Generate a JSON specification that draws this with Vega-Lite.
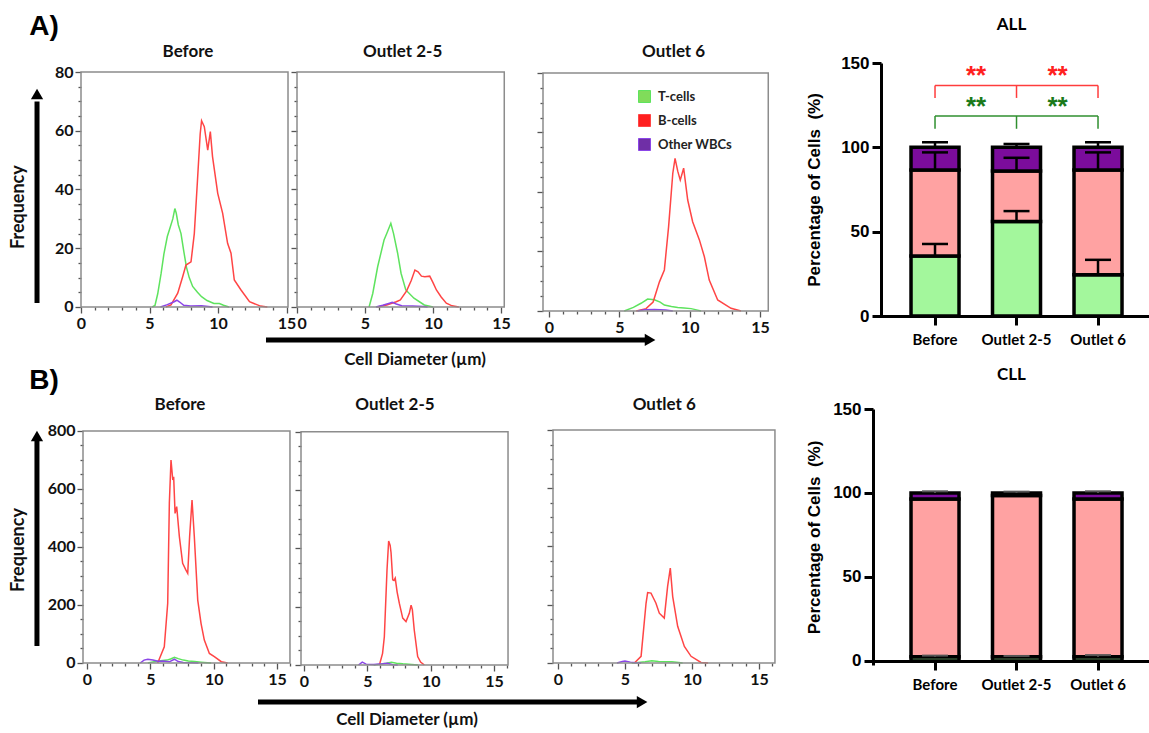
{
"$schema": "https://vega.github.io/schema/vega-lite/v6.json",
"background": "white",
"padding": {"left": 9, "top": 13, "right": 0, "bottom": 0},
"config": {"view": {"stroke": null}, "axis": {"grid": false, "labelOverlap": false, "labelFlush": false}},
"datasets": {
"one": [{"n": 1}],
"hist": [
{"p":"A1","c":"T-cells","d":5.2,"f":0},{"p":"A1","c":"T-cells","d":5.4,"f":0.5},{"p":"A1","c":"T-cells","d":5.6,"f":4.5},{"p":"A1","c":"T-cells","d":5.85,"f":11.5},{"p":"A1","c":"T-cells","d":6.05,"f":18},{"p":"A1","c":"T-cells","d":6.3,"f":24},{"p":"A1","c":"T-cells","d":6.5,"f":27},{"p":"A1","c":"T-cells","d":6.7,"f":30},{"p":"A1","c":"T-cells","d":6.85,"f":33.5},{"p":"A1","c":"T-cells","d":6.95,"f":32},{"p":"A1","c":"T-cells","d":7.1,"f":28},{"p":"A1","c":"T-cells","d":7.3,"f":25},{"p":"A1","c":"T-cells","d":7.5,"f":19},{"p":"A1","c":"T-cells","d":7.7,"f":13.5},{"p":"A1","c":"T-cells","d":7.9,"f":10},{"p":"A1","c":"T-cells","d":8.15,"f":7},{"p":"A1","c":"T-cells","d":8.5,"f":5},{"p":"A1","c":"T-cells","d":8.8,"f":3.5},{"p":"A1","c":"T-cells","d":9.2,"f":2.2},{"p":"A1","c":"T-cells","d":9.7,"f":1.2},{"p":"A1","c":"T-cells","d":10.1,"f":1.2},{"p":"A1","c":"T-cells","d":10.4,"f":0.6},{"p":"A1","c":"T-cells","d":10.8,"f":0},
{"p":"A1","c":"B-cells","d":6.2,"f":0},{"p":"A1","c":"B-cells","d":6.57,"f":0.7},{"p":"A1","c":"B-cells","d":7.06,"f":4.7},{"p":"A1","c":"B-cells","d":7.42,"f":10.3},{"p":"A1","c":"B-cells","d":7.66,"f":14.3},{"p":"A1","c":"B-cells","d":8.03,"f":15.4},{"p":"A1","c":"B-cells","d":8.27,"f":25},{"p":"A1","c":"B-cells","d":8.5,"f":43},{"p":"A1","c":"B-cells","d":8.7,"f":59},{"p":"A1","c":"B-cells","d":8.8,"f":63.4},{"p":"A1","c":"B-cells","d":9.0,"f":61.4},{"p":"A1","c":"B-cells","d":9.25,"f":53.4},{"p":"A1","c":"B-cells","d":9.44,"f":59.7},{"p":"A1","c":"B-cells","d":9.6,"f":51.2},{"p":"A1","c":"B-cells","d":9.98,"f":38.7},{"p":"A1","c":"B-cells","d":10.34,"f":31.9},{"p":"A1","c":"B-cells","d":10.7,"f":21.7},{"p":"A1","c":"B-cells","d":10.95,"f":18.3},{"p":"A1","c":"B-cells","d":11.19,"f":9.2},{"p":"A1","c":"B-cells","d":11.68,"f":5.8},{"p":"A1","c":"B-cells","d":12.3,"f":1.8},{"p":"A1","c":"B-cells","d":13.1,"f":0.3},{"p":"A1","c":"B-cells","d":13.6,"f":0},
{"p":"A1","c":"Other WBCs","d":5.8,"f":0},{"p":"A1","c":"Other WBCs","d":6.3,"f":0.8},{"p":"A1","c":"Other WBCs","d":6.8,"f":1.8},{"p":"A1","c":"Other WBCs","d":7.0,"f":2.3},{"p":"A1","c":"Other WBCs","d":7.2,"f":1.7},{"p":"A1","c":"Other WBCs","d":7.5,"f":0.6},{"p":"A1","c":"Other WBCs","d":8.0,"f":0.3},{"p":"A1","c":"Other WBCs","d":8.8,"f":0.4},{"p":"A1","c":"Other WBCs","d":9.3,"f":0.2},{"p":"A1","c":"Other WBCs","d":9.6,"f":0},
{"p":"A2","c":"T-cells","d":5.3,"f":0},{"p":"A2","c":"T-cells","d":5.57,"f":4.6},{"p":"A2","c":"T-cells","d":5.93,"f":13.7},{"p":"A2","c":"T-cells","d":6.4,"f":22.8},{"p":"A2","c":"T-cells","d":6.6,"f":25},{"p":"A2","c":"T-cells","d":6.9,"f":28.5},{"p":"A2","c":"T-cells","d":7.1,"f":25},{"p":"A2","c":"T-cells","d":7.4,"f":18.3},{"p":"A2","c":"T-cells","d":7.65,"f":11.5},{"p":"A2","c":"T-cells","d":8.0,"f":5.8},{"p":"A2","c":"T-cells","d":8.6,"f":3},{"p":"A2","c":"T-cells","d":9.36,"f":0.7},{"p":"A2","c":"T-cells","d":10.0,"f":0},
{"p":"A2","c":"B-cells","d":5.9,"f":0},{"p":"A2","c":"B-cells","d":6.6,"f":0.7},{"p":"A2","c":"B-cells","d":7.3,"f":1.8},{"p":"A2","c":"B-cells","d":7.6,"f":2.4},{"p":"A2","c":"B-cells","d":8.06,"f":5.5},{"p":"A2","c":"B-cells","d":8.4,"f":9},{"p":"A2","c":"B-cells","d":8.67,"f":12.6},{"p":"A2","c":"B-cells","d":8.9,"f":12},{"p":"A2","c":"B-cells","d":9.15,"f":10.5},{"p":"A2","c":"B-cells","d":9.4,"f":10.3},{"p":"A2","c":"B-cells","d":9.76,"f":10.5},{"p":"A2","c":"B-cells","d":10.0,"f":8.3},{"p":"A2","c":"B-cells","d":10.25,"f":5.8},{"p":"A2","c":"B-cells","d":10.6,"f":3.4},{"p":"A2","c":"B-cells","d":10.98,"f":1.3},{"p":"A2","c":"B-cells","d":11.4,"f":0.4},{"p":"A2","c":"B-cells","d":11.9,"f":0},
{"p":"A2","c":"Other WBCs","d":5.8,"f":0},{"p":"A2","c":"Other WBCs","d":6.3,"f":0.6},{"p":"A2","c":"Other WBCs","d":6.8,"f":1.3},{"p":"A2","c":"Other WBCs","d":7.0,"f":1.6},{"p":"A2","c":"Other WBCs","d":7.3,"f":1.0},{"p":"A2","c":"Other WBCs","d":7.7,"f":0.4},{"p":"A2","c":"Other WBCs","d":8.5,"f":0.3},{"p":"A2","c":"Other WBCs","d":9.3,"f":0.2},{"p":"A2","c":"Other WBCs","d":9.6,"f":0},
{"p":"A3","c":"T-cells","d":5.35,"f":0},{"p":"A3","c":"T-cells","d":6.0,"f":1.2},{"p":"A3","c":"T-cells","d":6.54,"f":2.6},{"p":"A3","c":"T-cells","d":7.01,"f":4},{"p":"A3","c":"T-cells","d":7.49,"f":3.8},{"p":"A3","c":"T-cells","d":7.9,"f":3},{"p":"A3","c":"T-cells","d":8.2,"f":2},{"p":"A3","c":"T-cells","d":8.7,"f":1.5},{"p":"A3","c":"T-cells","d":9.15,"f":1.2},{"p":"A3","c":"T-cells","d":9.6,"f":1},{"p":"A3","c":"T-cells","d":10.1,"f":0.8},{"p":"A3","c":"T-cells","d":10.57,"f":0.3},{"p":"A3","c":"T-cells","d":10.8,"f":0},
{"p":"A3","c":"B-cells","d":6.2,"f":0},{"p":"A3","c":"B-cells","d":6.9,"f":0.8},{"p":"A3","c":"B-cells","d":7.4,"f":3},{"p":"A3","c":"B-cells","d":7.85,"f":9.8},{"p":"A3","c":"B-cells","d":8.2,"f":13.8},{"p":"A3","c":"B-cells","d":8.5,"f":28.3},{"p":"A3","c":"B-cells","d":8.8,"f":46.3},{"p":"A3","c":"B-cells","d":8.96,"f":51.3},{"p":"A3","c":"B-cells","d":9.15,"f":47},{"p":"A3","c":"B-cells","d":9.33,"f":44},{"p":"A3","c":"B-cells","d":9.57,"f":48},{"p":"A3","c":"B-cells","d":9.86,"f":37.3},{"p":"A3","c":"B-cells","d":10.21,"f":30},{"p":"A3","c":"B-cells","d":10.69,"f":23.9},{"p":"A3","c":"B-cells","d":11.04,"f":18.3},{"p":"A3","c":"B-cells","d":11.39,"f":10.4},{"p":"A3","c":"B-cells","d":11.99,"f":3.7},{"p":"A3","c":"B-cells","d":12.94,"f":0.9},{"p":"A3","c":"B-cells","d":13.65,"f":0},
{"p":"A3","c":"Other WBCs","d":6.3,"f":0},{"p":"A3","c":"Other WBCs","d":6.8,"f":0.4},{"p":"A3","c":"Other WBCs","d":7.5,"f":0.5},{"p":"A3","c":"Other WBCs","d":8.3,"f":0.3},{"p":"A3","c":"Other WBCs","d":8.8,"f":0},
{"p":"B1","c":"T-cells","d":4.8,"f":0},{"p":"B1","c":"T-cells","d":5.3,"f":4},{"p":"B1","c":"T-cells","d":5.8,"f":8},{"p":"B1","c":"T-cells","d":6.3,"f":10},{"p":"B1","c":"T-cells","d":6.6,"f":14},{"p":"B1","c":"T-cells","d":6.9,"f":20},{"p":"B1","c":"T-cells","d":7.2,"f":15},{"p":"B1","c":"T-cells","d":7.6,"f":10},{"p":"B1","c":"T-cells","d":8.0,"f":7},{"p":"B1","c":"T-cells","d":8.5,"f":5},{"p":"B1","c":"T-cells","d":9.0,"f":3},{"p":"B1","c":"T-cells","d":9.5,"f":1},{"p":"B1","c":"T-cells","d":9.8,"f":0},
{"p":"B1","c":"B-cells","d":5.58,"f":0},{"p":"B1","c":"B-cells","d":6.1,"f":56},{"p":"B1","c":"B-cells","d":6.37,"f":206},{"p":"B1","c":"B-cells","d":6.5,"f":552},{"p":"B1","c":"B-cells","d":6.63,"f":700},{"p":"B1","c":"B-cells","d":6.77,"f":631},{"p":"B1","c":"B-cells","d":6.84,"f":642},{"p":"B1","c":"B-cells","d":6.95,"f":516},{"p":"B1","c":"B-cells","d":7.08,"f":539},{"p":"B1","c":"B-cells","d":7.29,"f":436},{"p":"B1","c":"B-cells","d":7.55,"f":344},{"p":"B1","c":"B-cells","d":7.8,"f":321},{"p":"B1","c":"B-cells","d":7.95,"f":309},{"p":"B1","c":"B-cells","d":8.1,"f":436},{"p":"B1","c":"B-cells","d":8.29,"f":562},{"p":"B1","c":"B-cells","d":8.47,"f":436},{"p":"B1","c":"B-cells","d":8.74,"f":217},{"p":"B1","c":"B-cells","d":9.0,"f":137},{"p":"B1","c":"B-cells","d":9.26,"f":79},{"p":"B1","c":"B-cells","d":9.66,"f":33},{"p":"B1","c":"B-cells","d":10.05,"f":22},{"p":"B1","c":"B-cells","d":10.6,"f":4.5},{"p":"B1","c":"B-cells","d":11.1,"f":0},
{"p":"B1","c":"Other WBCs","d":4.2,"f":0},{"p":"B1","c":"Other WBCs","d":4.5,"f":10},{"p":"B1","c":"Other WBCs","d":4.8,"f":13},{"p":"B1","c":"Other WBCs","d":5.2,"f":10},{"p":"B1","c":"Other WBCs","d":5.6,"f":6},{"p":"B1","c":"Other WBCs","d":6.0,"f":7},{"p":"B1","c":"Other WBCs","d":6.5,"f":4},{"p":"B1","c":"Other WBCs","d":6.9,"f":13},{"p":"B1","c":"Other WBCs","d":7.2,"f":5},{"p":"B1","c":"Other WBCs","d":7.6,"f":2},{"p":"B1","c":"Other WBCs","d":8.3,"f":1},{"p":"B1","c":"Other WBCs","d":8.8,"f":0},
{"p":"B2","c":"T-cells","d":5.5,"f":0},{"p":"B2","c":"T-cells","d":6.0,"f":3},{"p":"B2","c":"T-cells","d":6.5,"f":6},{"p":"B2","c":"T-cells","d":6.9,"f":9},{"p":"B2","c":"T-cells","d":7.3,"f":6},{"p":"B2","c":"T-cells","d":7.8,"f":4},{"p":"B2","c":"T-cells","d":8.5,"f":2},{"p":"B2","c":"T-cells","d":9.0,"f":0},
{"p":"B2","c":"B-cells","d":5.95,"f":0},{"p":"B2","c":"B-cells","d":6.2,"f":40},{"p":"B2","c":"B-cells","d":6.34,"f":97},{"p":"B2","c":"B-cells","d":6.55,"f":326},{"p":"B2","c":"B-cells","d":6.68,"f":425},{"p":"B2","c":"B-cells","d":6.8,"f":410},{"p":"B2","c":"B-cells","d":6.87,"f":385},{"p":"B2","c":"B-cells","d":7.0,"f":292},{"p":"B2","c":"B-cells","d":7.1,"f":290},{"p":"B2","c":"B-cells","d":7.2,"f":298},{"p":"B2","c":"B-cells","d":7.35,"f":250},{"p":"B2","c":"B-cells","d":7.52,"f":212},{"p":"B2","c":"B-cells","d":7.79,"f":161},{"p":"B2","c":"B-cells","d":8.05,"f":149},{"p":"B2","c":"B-cells","d":8.31,"f":177},{"p":"B2","c":"B-cells","d":8.45,"f":205},{"p":"B2","c":"B-cells","d":8.55,"f":190},{"p":"B2","c":"B-cells","d":8.7,"f":120},{"p":"B2","c":"B-cells","d":8.97,"f":29},{"p":"B2","c":"B-cells","d":9.2,"f":10},{"p":"B2","c":"B-cells","d":9.5,"f":0},
{"p":"B2","c":"Other WBCs","d":4.3,"f":0},{"p":"B2","c":"Other WBCs","d":4.6,"f":10},{"p":"B2","c":"Other WBCs","d":4.9,"f":3},{"p":"B2","c":"Other WBCs","d":5.5,"f":2},{"p":"B2","c":"Other WBCs","d":6.2,"f":4},{"p":"B2","c":"Other WBCs","d":6.6,"f":6},{"p":"B2","c":"Other WBCs","d":7.0,"f":1},{"p":"B2","c":"Other WBCs","d":7.4,"f":0},
{"p":"B3","c":"T-cells","d":5.5,"f":0},{"p":"B3","c":"T-cells","d":6.0,"f":2},{"p":"B3","c":"T-cells","d":6.5,"f":4},{"p":"B3","c":"T-cells","d":7.0,"f":8},{"p":"B3","c":"T-cells","d":7.5,"f":5},{"p":"B3","c":"T-cells","d":8.0,"f":4},{"p":"B3","c":"T-cells","d":8.5,"f":4},{"p":"B3","c":"T-cells","d":9.0,"f":2},{"p":"B3","c":"T-cells","d":9.3,"f":0},
{"p":"B3","c":"B-cells","d":5.7,"f":0},{"p":"B3","c":"B-cells","d":6.2,"f":23},{"p":"B3","c":"B-cells","d":6.57,"f":205},{"p":"B3","c":"B-cells","d":6.69,"f":242},{"p":"B3","c":"B-cells","d":6.94,"f":240},{"p":"B3","c":"B-cells","d":7.1,"f":225},{"p":"B3","c":"B-cells","d":7.31,"f":205},{"p":"B3","c":"B-cells","d":7.56,"f":171},{"p":"B3","c":"B-cells","d":7.93,"f":154},{"p":"B3","c":"B-cells","d":8.18,"f":263},{"p":"B3","c":"B-cells","d":8.38,"f":326},{"p":"B3","c":"B-cells","d":8.56,"f":228},{"p":"B3","c":"B-cells","d":8.93,"f":126},{"p":"B3","c":"B-cells","d":9.43,"f":57},{"p":"B3","c":"B-cells","d":9.93,"f":23},{"p":"B3","c":"B-cells","d":10.67,"f":2},{"p":"B3","c":"B-cells","d":11.2,"f":0},
{"p":"B3","c":"Other WBCs","d":4.4,"f":0},{"p":"B3","c":"Other WBCs","d":4.8,"f":5},{"p":"B3","c":"Other WBCs","d":5.0,"f":7},{"p":"B3","c":"Other WBCs","d":5.4,"f":3},{"p":"B3","c":"Other WBCs","d":5.8,"f":1},{"p":"B3","c":"Other WBCs","d":6.2,"f":0}
],
"bars": [
{"g":"ALL","cat":"Before","cell":"T-cells","lo":0,"hi":35.5},
{"g":"ALL","cat":"Before","cell":"B-cells","lo":35.5,"hi":86.5},
{"g":"ALL","cat":"Before","cell":"Other WBCs","lo":86.5,"hi":100},
{"g":"ALL","cat":"Outlet 2-5","cell":"T-cells","lo":0,"hi":56},
{"g":"ALL","cat":"Outlet 2-5","cell":"B-cells","lo":56,"hi":86},
{"g":"ALL","cat":"Outlet 2-5","cell":"Other WBCs","lo":86,"hi":100},
{"g":"ALL","cat":"Outlet 6","cell":"T-cells","lo":0,"hi":24.5},
{"g":"ALL","cat":"Outlet 6","cell":"B-cells","lo":24.5,"hi":86.5},
{"g":"ALL","cat":"Outlet 6","cell":"Other WBCs","lo":86.5,"hi":100},
{"g":"CLL","cat":"Before","cell":"T-cells","lo":0,"hi":2.5},
{"g":"CLL","cat":"Before","cell":"B-cells","lo":2.5,"hi":96.5},
{"g":"CLL","cat":"Before","cell":"Other WBCs","lo":96.5,"hi":100},
{"g":"CLL","cat":"Outlet 2-5","cell":"T-cells","lo":0,"hi":2.5},
{"g":"CLL","cat":"Outlet 2-5","cell":"B-cells","lo":2.5,"hi":98.5},
{"g":"CLL","cat":"Outlet 2-5","cell":"Other WBCs","lo":98.5,"hi":100},
{"g":"CLL","cat":"Outlet 6","cell":"T-cells","lo":0,"hi":2.5},
{"g":"CLL","cat":"Outlet 6","cell":"B-cells","lo":2.5,"hi":96.5},
{"g":"CLL","cat":"Outlet 6","cell":"Other WBCs","lo":96.5,"hi":100}
],
"errs": [
{"g":"ALL","cat":"Before","cell":"T-cells","mean":35.5,"upper":42.7},
{"g":"ALL","cat":"Before","cell":"B-cells","mean":86.5,"upper":97},
{"g":"ALL","cat":"Before","cell":"Other WBCs","mean":100,"upper":103},
{"g":"ALL","cat":"Outlet 2-5","cell":"T-cells","mean":56,"upper":62.2},
{"g":"ALL","cat":"Outlet 2-5","cell":"B-cells","mean":86,"upper":93.8},
{"g":"ALL","cat":"Outlet 2-5","cell":"Other WBCs","mean":100,"upper":102},
{"g":"ALL","cat":"Outlet 6","cell":"T-cells","mean":24.5,"upper":33.3},
{"g":"ALL","cat":"Outlet 6","cell":"B-cells","mean":86.5,"upper":97},
{"g":"ALL","cat":"Outlet 6","cell":"Other WBCs","mean":100,"upper":103},
{"g":"CLL","cat":"Before","cell":"T-cells","mean":2.5,"upper":3.2},
{"g":"CLL","cat":"Before","cell":"Other WBCs","mean":100,"upper":101},
{"g":"CLL","cat":"Outlet 2-5","cell":"T-cells","mean":2.5,"upper":3},
{"g":"CLL","cat":"Outlet 2-5","cell":"Other WBCs","mean":100,"upper":100.8},
{"g":"CLL","cat":"Outlet 6","cell":"T-cells","mean":2.5,"upper":3.5},
{"g":"CLL","cat":"Outlet 6","cell":"Other WBCs","mean":100,"upper":101}
]
},
"columns": 4,
"spacing": {"row": 93, "column": 0},
"bounds": "flush",
"resolve": {"scale": {"color": "independent", "fill": "independent"}, "legend": {"color": "independent", "fill": "independent"}},
"concat": [
{
 "width": 216, "height": 253,
 "layer": [
  {"data": {"name": "hist"}, "transform": [{"filter": "datum.p === 'A1'"}],
   "mark": {"type": "line", "strokeWidth": 1.5},
   "encoding": {
    "x": {"field": "d", "type": "quantitative", "scale": {"domain": [0, 15.766], "nice": false, "zero": false},
     "axis": {"title": null, "domain": false, "format": "d", "tickCount": 100, "values": [0,1,2,3,4,5,6,7,8,9,10,11,12,13,14,15], "labelExpr": "datum.value % 5 === 0 ? datum.label : ''", "tickSize": {"condition": {"test": "datum.value % 5 === 0", "value": 6}, "value": 3}, "tickColor": "#555", "tickWidth": 1.3, "labelFont": "Lato", "labelFontSize": 16, "labelFontWeight": "bold", "labelColor": "#111", "labelPadding": 2, "offset": -9}},
    "y": {"field": "f", "type": "quantitative", "scale": {"domain": [-3.064, 83.064], "nice": false, "zero": false},
     "axis": {"title": null, "domain": false, "format": "d", "tickCount": 100, "values": [0,5,10,15,20,25,30,35,40,45,50,55,60,65,70,75,80], "labelExpr": "datum.value % 20 === 0 ? datum.label : ''", "tickSize": {"condition": {"test": "datum.value % 20 === 0", "value": 6}, "value": 3}, "tickColor": "#555", "tickWidth": 1.3, "labelFont": "Lato", "labelFontSize": 16, "labelFontWeight": "bold", "labelColor": "#111", "labelPadding": 2}},
    "color": {"field": "c", "type": "nominal", "scale": {"domain": ["T-cells", "B-cells", "Other WBCs"], "range": ["#5ee35e", "#ff4545", "#8b45e8"]}, "legend": null}}},
  {"data": {"name": "one"}, "mark": {"type": "rect", "filled": false, "stroke": "#8c8c8c", "strokeWidth": 1.5},
   "encoding": {"x": {"datum": 0}, "x2": {"datum": 15.11}, "y": {"datum": 0}, "y2": {"datum": 80}}},
  {"data": {"name": "one"}, "mark": {"type": "text", "text": "Before", "font": "Lato", "fontSize": 17, "fontWeight": "bold", "align": "center", "baseline": "middle", "color": "#111"},
   "encoding": {"x": {"datum": 7.81}, "y": {"datum": 86.8}}},
  {"data": {"name": "one"}, "mark": {"type": "text", "text": "A)", "font": "Liberation Sans", "fontSize": 28, "fontWeight": "bold", "align": "center", "baseline": "middle", "color": "#000"},
   "encoding": {"x": {"datum": -2.7}, "y": {"datum": 95.3}}},
  {"data": {"name": "one"}, "mark": {"type": "text", "text": "Frequency", "font": "Lato", "fontSize": 18, "fontWeight": "bold", "align": "center", "baseline": "middle", "angle": 270, "color": "#111"},
   "encoding": {"x": {"datum": -4.53}, "y": {"datum": 34.0}}},
  {"data": {"name": "one"}, "mark": {"type": "rule", "strokeWidth": 5, "color": "#000"},
   "encoding": {"x": {"datum": -3.21}, "y": {"datum": 1.36}, "y2": {"datum": 70}}},
  {"data": {"name": "one"}, "mark": {"type": "point", "shape": "triangle-up", "filled": true, "color": "#000", "size": 150, "opacity": 1},
   "encoding": {"x": {"datum": -3.21}, "y": {"datum": 72.5}}}
 ]
},
{
 "width": 246, "height": 253,
 "layer": [
  {"data": {"name": "hist"}, "transform": [{"filter": "datum.p === 'A2'"}],
   "mark": {"type": "line", "strokeWidth": 1.5},
   "encoding": {
    "x": {"field": "d", "type": "quantitative", "scale": {"domain": [0, 18.088], "nice": false, "zero": false},
     "axis": {"title": null, "domain": false, "format": "d", "tickCount": 100, "values": [0,1,2,3,4,5,6,7,8,9,10,11,12,13,14,15], "labelExpr": "datum.value % 5 === 0 ? datum.label : ''", "labelAlign": {"condition": {"test": "datum.value === 0", "value": "left"}, "value": "center"}, "tickSize": {"condition": {"test": "datum.value % 5 === 0", "value": 6}, "value": 3}, "tickColor": "#555", "tickWidth": 1.3, "labelFont": "Lato", "labelFontSize": 16, "labelFontWeight": "bold", "labelColor": "#111", "labelPadding": 2, "offset": -9}},
    "y": {"field": "f", "type": "quantitative", "scale": {"domain": [-3.064, 83.064], "nice": false, "zero": false},
     "axis": {"title": null, "domain": false, "labels": false, "tickCount": 100, "values": [0,5,10,15,20,25,30,35,40,45,50,55,60,65,70,75,80], "tickSize": {"condition": {"test": "datum.value % 20 === 0", "value": 6}, "value": 3}, "tickColor": "#555", "tickWidth": 1.3}},
    "color": {"field": "c", "type": "nominal", "scale": {"domain": ["T-cells", "B-cells", "Other WBCs"], "range": ["#5ee35e", "#ff4545", "#8b45e8"]}, "legend": null}}},
  {"data": {"name": "one"}, "mark": {"type": "rect", "filled": false, "stroke": "#8c8c8c", "strokeWidth": 1.5},
   "encoding": {"x": {"datum": 0}, "x2": {"datum": 15.24}, "y": {"datum": 0}, "y2": {"datum": 80}}},
  {"data": {"name": "one"}, "mark": {"type": "text", "text": "Outlet 2-5", "font": "Lato", "fontSize": 17, "fontWeight": "bold", "align": "center", "baseline": "middle", "color": "#111"},
   "encoding": {"x": {"datum": 7.77}, "y": {"datum": 86.8}}},
  {"data": {"name": "one"}, "mark": {"type": "rule", "strokeWidth": 5, "color": "#000"},
   "encoding": {"x": {"datum": -2.28}, "x2": {"datum": 25.6}, "y": {"datum": -11.23}}},
  {"data": {"name": "one"}, "mark": {"type": "point", "shape": "triangle-right", "filled": true, "color": "#000", "size": 150, "opacity": 1},
   "encoding": {"x": {"datum": 25.96}, "y": {"datum": -11.23}}},
  {"data": {"name": "one"}, "mark": {"type": "text", "text": "Cell Diameter (µm)", "font": "Lato", "fontSize": 17, "fontWeight": "bold", "align": "center", "baseline": "middle", "color": "#111"},
   "encoding": {"x": {"datum": 8.68}, "y": {"datum": -18.0}}}
 ]
},
{
 "width": 330, "height": 253,
 "layer": [
  {"data": {"name": "hist"}, "transform": [{"filter": "datum.p === 'A3'"}],
   "mark": {"type": "line", "strokeWidth": 1.5},
   "encoding": {
    "x": {"field": "d", "type": "quantitative", "scale": {"domain": [-0.4264, 23.03], "nice": false, "zero": false},
     "axis": {"title": null, "domain": false, "format": "d", "tickCount": 100, "values": [0,1,2,3,4,5,6,7,8,9,10,11,12,13,14,15], "labelExpr": "datum.value % 5 === 0 ? datum.label : ''", "tickSize": {"condition": {"test": "datum.value % 5 === 0", "value": 6}, "value": 3}, "tickColor": "#555", "tickWidth": 1.3, "labelFont": "Lato", "labelFontSize": 16, "labelFontWeight": "bold", "labelColor": "#111", "labelPadding": 2, "offset": -5}},
    "y": {"field": "f", "type": "quantitative", "scale": {"domain": [-1.681, 83.36], "nice": false, "zero": false},
     "axis": {"title": null, "domain": false, "labels": false, "tickCount": 100, "values": [0,5,10,15,20,25,30,35,40,45,50,55,60,65,70,75,80], "tickSize": {"condition": {"test": "datum.value % 20 === 0", "value": 6}, "value": 3}, "tickColor": "#555", "tickWidth": 1.3}},
    "color": {"field": "c", "type": "nominal", "scale": {"domain": ["T-cells", "B-cells", "Other WBCs"], "range": ["#5ee35e", "#ff4545", "#8b45e8"]},
     "legend": {"orient": "none", "legendX": 95, "legendY": 27, "title": null, "symbolType": "square", "symbolSize": 144, "labelFont": "Lato", "labelFontSize": 13, "labelFontWeight": "bold", "labelColor": "#222", "rowPadding": 7, "padding": 0, "labelOffset": 7,
      "encode": {"symbols": {"update": {"fill": {"signal": "datum.value === 'T-cells' ? '#80dc5a' : datum.value === 'B-cells' ? '#ff1f1f' : '#6f2fa6'"}, "stroke": {"signal": "datum.value === 'T-cells' ? '#80dc5a' : '#ff2a2a'"}, "strokeWidth": {"value": 1}, "opacity": {"value": 1}}}}}}}},
  {"data": {"name": "one"}, "mark": {"type": "rect", "filled": false, "stroke": "#8c8c8c", "strokeWidth": 1.5},
   "encoding": {"x": {"datum": -0.4264}, "x2": {"datum": 15.586}, "y": {"datum": 0}, "y2": {"datum": 80}}},
  {"data": {"name": "one"}, "mark": {"type": "text", "text": "Outlet 6", "font": "Lato", "fontSize": 17, "fontWeight": "bold", "align": "center", "baseline": "middle", "color": "#111"},
   "encoding": {"x": {"datum": 8.86}, "y": {"datum": 87.06}}}
 ]
},
{
 "width": 277, "height": 253,
 "title": {"text": "ALL", "font": "Lato", "fontSize": 17, "fontWeight": "bold", "offset": 20, "anchor": "middle", "color": "#000"},
 "layer": [
  {"data": {"name": "bars"}, "transform": [{"filter": "datum.g === 'ALL'"}],
   "mark": {"type": "bar", "stroke": "#000", "strokeWidth": 3.5, "strokeJoin": "miter"},
   "encoding": {
    "x": {"field": "cat", "type": "nominal", "scale": {"domain": ["Before", "Outlet 2-5", "Outlet 6"], "paddingInner": 0.411, "paddingOuter": 0.4049, "align": 0.576},
     "axis": {"title": null, "labelAngle": 0, "domainWidth": 3, "domainColor": "#000", "domainDash": [0, 6.5, 320], "tickWidth": 3, "tickColor": "#000", "tickSize": 9, "labelFont": "Lato", "labelFontSize": 15, "labelFontWeight": "bold", "labelColor": "#000", "labelPadding": 7}},
    "y": {"field": "lo", "type": "quantitative", "scale": {"domain": [0, 150], "nice": false},
     "axis": {"title": "Percentage of Cells\u00a0 (%)", "offset": -8, "values": [0, 50, 100, 150], "domainWidth": 3, "domainColor": "#000", "tickWidth": 3, "tickColor": "#000", "tickSize": 9, "labelFont": "Liberation Sans", "labelFontSize": 17, "labelFontWeight": "bold", "labelColor": "#000", "labelPadding": 3, "titleFont": "Liberation Sans", "titleFontSize": 17, "titleFontWeight": "bold", "titleColor": "#000", "titlePadding": 17}},
    "y2": {"field": "hi"},
    "fill": {"field": "cell", "type": "nominal", "scale": {"domain": ["T-cells", "B-cells", "Other WBCs"], "range": ["#a3f79c", "#ffa2a2", "#7b0c9c"]}, "legend": null}}},
  {"data": {"name": "errs"}, "transform": [{"filter": "datum.g === 'ALL'"}],
   "mark": {"type": "rule", "strokeWidth": 2.5, "color": "#000"},
   "encoding": {"x": {"field": "cat", "type": "nominal"}, "y": {"field": "mean", "type": "quantitative"}, "y2": {"field": "upper"}}},
  {"data": {"name": "errs"}, "transform": [{"filter": "datum.g === 'ALL'"}],
   "mark": {"type": "tick", "size": 26, "thickness": 2.5, "color": "#000", "opacity": 1},
   "encoding": {"x": {"field": "cat", "type": "nominal"}, "y": {"field": "upper", "type": "quantitative"}}},
  {"data": {"name": "bars"}, "transform": [{"filter": "datum.g === 'ALL' && datum.cell === 'T-cells'"}],
   "mark": {"type": "rule", "strokeWidth": 1.5, "color": "#ff3c3c"},
   "encoding": {"x": {"field": "cat", "type": "nominal"}, "y": {"datum": 129.3}, "y2": {"datum": 136.6}}},
  {"data": {"name": "one"}, "mark": {"type": "rule", "strokeWidth": 1.5, "color": "#ff3c3c"},
   "encoding": {"x": {"datum": "Before", "type": "nominal"}, "x2": {"datum": "Outlet 6"}, "y": {"datum": 136.6}}},
  {"data": {"name": "bars"}, "transform": [{"filter": "datum.g === 'ALL' && datum.cell === 'T-cells'"}],
   "mark": {"type": "rule", "strokeWidth": 1.5, "color": "#2f8f2f"},
   "encoding": {"x": {"field": "cat", "type": "nominal"}, "y": {"datum": 111}, "y2": {"datum": 118.6}}},
  {"data": {"name": "one"}, "mark": {"type": "rule", "strokeWidth": 1.5, "color": "#2f8f2f"},
   "encoding": {"x": {"datum": "Before", "type": "nominal"}, "x2": {"datum": "Outlet 6"}, "y": {"datum": 118.6}}},
  {"data": {"name": "bars"}, "transform": [{"filter": "datum.g === 'ALL' && datum.cell === 'T-cells' && datum.cat !== 'Outlet 6'"}],
   "mark": {"type": "text", "text": "**", "font": "Liberation Sans", "fontSize": 26, "fontWeight": "bold", "color": "#ff2020", "align": "center", "baseline": "alphabetic", "dx": 41},
   "encoding": {"x": {"field": "cat", "type": "nominal"}, "y": {"datum": 137.5}}},
  {"data": {"name": "bars"}, "transform": [{"filter": "datum.g === 'ALL' && datum.cell === 'T-cells' && datum.cat !== 'Outlet 6'"}],
   "mark": {"type": "text", "text": "**", "font": "Liberation Sans", "fontSize": 26, "fontWeight": "bold", "color": "#1a7a1a", "align": "center", "baseline": "alphabetic", "dx": 41},
   "encoding": {"x": {"field": "cat", "type": "nominal"}, "y": {"datum": 119.2}}}
 ]
},
{
 "width": 216, "height": 256,
 "layer": [
  {"data": {"name": "hist"}, "transform": [{"filter": "datum.p === 'B1'"}],
   "mark": {"type": "line", "strokeWidth": 1.5},
   "encoding": {
    "x": {"field": "d", "type": "quantitative", "scale": {"domain": [-0.4736, 16.575], "nice": false, "zero": false},
     "axis": {"title": null, "domain": false, "format": "d", "tickCount": 100, "values": [0,1,2,3,4,5,6,7,8,9,10,11,12,13,14,15,16], "labelExpr": "datum.value % 5 === 0 ? datum.label : ''", "tickSize": {"condition": {"test": "datum.value % 5 === 0", "value": 6}, "value": 3}, "tickColor": "#555", "tickWidth": 1.3, "labelFont": "Lato", "labelFontSize": 16, "labelFontWeight": "bold", "labelColor": "#111", "labelPadding": 2, "offset": -2}},
    "y": {"field": "f", "type": "quantitative", "scale": {"domain": [-6.897, 875.86], "nice": false, "zero": false},
     "axis": {"title": null, "domain": false, "format": "d", "tickCount": 100, "values": [0,50,100,150,200,250,300,350,400,450,500,550,600,650,700,750,800], "labelExpr": "datum.value % 200 === 0 ? datum.label : ''", "tickSize": {"condition": {"test": "datum.value % 200 === 0", "value": 6}, "value": 3}, "tickColor": "#555", "tickWidth": 1.3, "labelFont": "Lato", "labelFontSize": 16, "labelFontWeight": "bold", "labelColor": "#111", "labelPadding": 2, "offset": -2}},
    "color": {"field": "c", "type": "nominal", "scale": {"domain": ["T-cells", "B-cells", "Other WBCs"], "range": ["#5ee35e", "#ff4545", "#8b45e8"]}, "legend": null}}},
  {"data": {"name": "one"}, "mark": {"type": "rect", "filled": false, "stroke": "#8c8c8c", "strokeWidth": 1.5},
   "encoding": {"x": {"datum": -0.3157}, "x2": {"datum": 16.02}, "y": {"datum": 0}, "y2": {"datum": 800}}},
  {"data": {"name": "one"}, "mark": {"type": "text", "text": "Before", "font": "Lato", "fontSize": 17, "fontWeight": "bold", "align": "center", "baseline": "middle", "color": "#111"},
   "encoding": {"x": {"datum": 7.34}, "y": {"datum": 889.7}}},
  {"data": {"name": "one"}, "mark": {"type": "text", "text": "B)", "font": "Liberation Sans", "fontSize": 28, "fontWeight": "bold", "align": "center", "baseline": "middle", "color": "#000"},
   "encoding": {"x": {"datum": -3.39}, "y": {"datum": 972}}},
  {"data": {"name": "one"}, "mark": {"type": "text", "text": "Frequency", "font": "Lato", "fontSize": 18, "fontWeight": "bold", "align": "center", "baseline": "middle", "angle": 270, "color": "#111"},
   "encoding": {"x": {"datum": -5.37}, "y": {"datum": 389.7}}},
  {"data": {"name": "one"}, "mark": {"type": "rule", "strokeWidth": 5, "color": "#000"},
   "encoding": {"x": {"datum": -3.95}, "y": {"datum": 58.6}, "y2": {"datum": 775}}},
  {"data": {"name": "one"}, "mark": {"type": "point", "shape": "triangle-up", "filled": true, "color": "#000", "size": 150, "opacity": 1},
   "encoding": {"x": {"datum": -3.95}, "y": {"datum": 782.8}}}
 ]
},
{
 "width": 246, "height": 256,
 "layer": [
  {"data": {"name": "hist"}, "transform": [{"filter": "datum.p === 'B2'"}],
   "mark": {"type": "line", "strokeWidth": 1.5},
   "encoding": {
    "x": {"field": "d", "type": "quantitative", "scale": {"domain": [-0.5525, 18.86], "nice": false, "zero": false},
     "axis": {"title": null, "domain": false, "format": "d", "tickCount": 100, "values": [0,1,2,3,4,5,6,7,8,9,10,11,12,13,14,15,16], "labelExpr": "datum.value % 5 === 0 ? datum.label : ''", "tickSize": {"condition": {"test": "datum.value % 5 === 0", "value": 6}, "value": 3}, "tickColor": "#555", "tickWidth": 1.3, "labelFont": "Lato", "labelFontSize": 16, "labelFontWeight": "bold", "labelColor": "#111", "labelPadding": 2}},
    "y": {"field": "f", "type": "quantitative", "scale": {"domain": [0, 877.9], "nice": false, "zero": false},
     "axis": {"title": null, "domain": false, "labels": false, "tickCount": 100, "values": [0,50,100,150,200,250,300,350,400,450,500,550,600,650,700,750,800], "tickSize": {"condition": {"test": "datum.value % 200 === 0", "value": 6}, "value": 3}, "tickColor": "#555", "tickWidth": 1.3, "offset": -4}},
    "color": {"field": "c", "type": "nominal", "scale": {"domain": ["T-cells", "B-cells", "Other WBCs"], "range": ["#5ee35e", "#ff4545", "#8b45e8"]}, "legend": null}}},
  {"data": {"name": "one"}, "mark": {"type": "rect", "filled": false, "stroke": "#8c8c8c", "strokeWidth": 1.5},
   "encoding": {"x": {"datum": -0.2368}, "x2": {"datum": 16.10}, "y": {"datum": 0}, "y2": {"datum": 800}}},
  {"data": {"name": "one"}, "mark": {"type": "text", "text": "Outlet 2-5", "font": "Lato", "fontSize": 17, "fontWeight": "bold", "align": "center", "baseline": "middle", "color": "#111"},
   "encoding": {"x": {"datum": 7.18}, "y": {"datum": 891.6}}},
  {"data": {"name": "one"}, "mark": {"type": "rule", "strokeWidth": 5, "color": "#000"},
   "encoding": {"x": {"datum": -3.63}, "x2": {"datum": 26.3}, "y": {"datum": -126.9}}},
  {"data": {"name": "one"}, "mark": {"type": "point", "shape": "triangle-right", "filled": true, "color": "#000", "size": 150, "opacity": 1},
   "encoding": {"x": {"datum": 26.68}, "y": {"datum": -126.9}}},
  {"data": {"name": "one"}, "mark": {"type": "text", "text": "Cell Diameter (µm)", "font": "Lato", "fontSize": 17, "fontWeight": "bold", "align": "center", "baseline": "middle", "color": "#111"},
   "encoding": {"x": {"datum": 8.13}, "y": {"datum": -188.6}}}
 ]
},
{
 "width": 330, "height": 256,
 "layer": [
  {"data": {"name": "hist"}, "transform": [{"filter": "datum.p === 'B3'"}],
   "mark": {"type": "line", "strokeWidth": 1.5},
   "encoding": {
    "x": {"field": "d", "type": "quantitative", "scale": {"domain": [-1.1194, 23.507], "nice": false, "zero": false},
     "axis": {"title": null, "domain": false, "format": "d", "tickCount": 100, "values": [0,1,2,3,4,5,6,7,8,9,10,11,12,13,14,15,16], "labelExpr": "datum.value % 5 === 0 ? datum.label : ''", "tickSize": {"condition": {"test": "datum.value % 5 === 0", "value": 6}, "value": 3}, "tickColor": "#555", "tickWidth": 1.3, "labelFont": "Lato", "labelFontSize": 16, "labelFontWeight": "bold", "labelColor": "#111", "labelPadding": 2, "offset": -2}},
    "y": {"field": "f", "type": "quantitative", "scale": {"domain": [-6.867, 872.1], "nice": false, "zero": false},
     "axis": {"title": null, "domain": false, "labels": false, "tickCount": 100, "values": [0,50,100,150,200,250,300,350,400,450,500,550,600,650,700,750,800], "tickSize": {"condition": {"test": "datum.value % 200 === 0", "value": 6}, "value": 3}, "tickColor": "#555", "tickWidth": 1.3, "offset": -10}},
    "color": {"field": "c", "type": "nominal", "scale": {"domain": ["T-cells", "B-cells", "Other WBCs"], "range": ["#5ee35e", "#ff4545", "#8b45e8"]}, "legend": null}}},
  {"data": {"name": "one"}, "mark": {"type": "rect", "filled": false, "stroke": "#8c8c8c", "strokeWidth": 1.5},
   "encoding": {"x": {"datum": -0.3731}, "x2": {"datum": 16.19}, "y": {"datum": 0}, "y2": {"datum": 800}}},
  {"data": {"name": "one"}, "mark": {"type": "text", "text": "Outlet 6", "font": "Lato", "fontSize": 17, "fontWeight": "bold", "align": "center", "baseline": "middle", "color": "#111"},
   "encoding": {"x": {"datum": 7.93}, "y": {"datum": 885.8}}}
 ]
},
{
 "width": 277, "height": 256,
 "title": {"text": "CLL", "font": "Lato", "fontSize": 17, "fontWeight": "bold", "offset": 16, "anchor": "middle", "color": "#000"},
 "layer": [
  {"data": {"name": "bars"}, "transform": [{"filter": "datum.g === 'CLL'"}],
   "mark": {"type": "bar", "stroke": "#000", "strokeWidth": 3.5, "strokeJoin": "miter"},
   "encoding": {
    "x": {"field": "cat", "type": "nominal", "scale": {"domain": ["Before", "Outlet 2-5", "Outlet 6"], "paddingInner": 0.411, "paddingOuter": 0.4049, "align": 0.576},
     "axis": {"title": null, "labelAngle": 0, "offset": -4, "domainWidth": 3, "domainColor": "#000", "tickWidth": 3, "tickColor": "#000", "tickSize": 9, "labelFont": "Lato", "labelFontSize": 15, "labelFontWeight": "bold", "labelColor": "#000", "labelPadding": 7}},
    "y": {"field": "lo", "type": "quantitative", "scale": {"domain": [-2.381, 150], "nice": false, "zero": false},
     "axis": {"title": "Percentage of Cells\u00a0 (%)", "values": [0, 50, 100, 150], "domainWidth": 3, "domainColor": "#000", "tickWidth": 3, "tickColor": "#000", "tickSize": 9, "labelFont": "Liberation Sans", "labelFontSize": 17, "labelFontWeight": "bold", "labelColor": "#000", "labelPadding": 3, "titleFont": "Liberation Sans", "titleFontSize": 17, "titleFontWeight": "bold", "titleColor": "#000", "titlePadding": 9}},
    "y2": {"field": "hi"},
    "fill": {"field": "cell", "type": "nominal", "scale": {"domain": ["T-cells", "B-cells", "Other WBCs"], "range": ["#a3f79c", "#ffa2a2", "#7b0c9c"]}, "legend": null}}},
  {"data": {"name": "errs"}, "transform": [{"filter": "datum.g === 'CLL'"}],
   "mark": {"type": "rule", "strokeWidth": 2, "color": "#555"},
   "encoding": {"x": {"field": "cat", "type": "nominal"}, "y": {"field": "mean", "type": "quantitative"}, "y2": {"field": "upper"}}},
  {"data": {"name": "errs"}, "transform": [{"filter": "datum.g === 'CLL'"}],
   "mark": {"type": "tick", "size": 26, "thickness": 2, "color": "#555", "opacity": 1},
   "encoding": {"x": {"field": "cat", "type": "nominal"}, "y": {"field": "upper", "type": "quantitative"}}}
 ]
}
]
}
